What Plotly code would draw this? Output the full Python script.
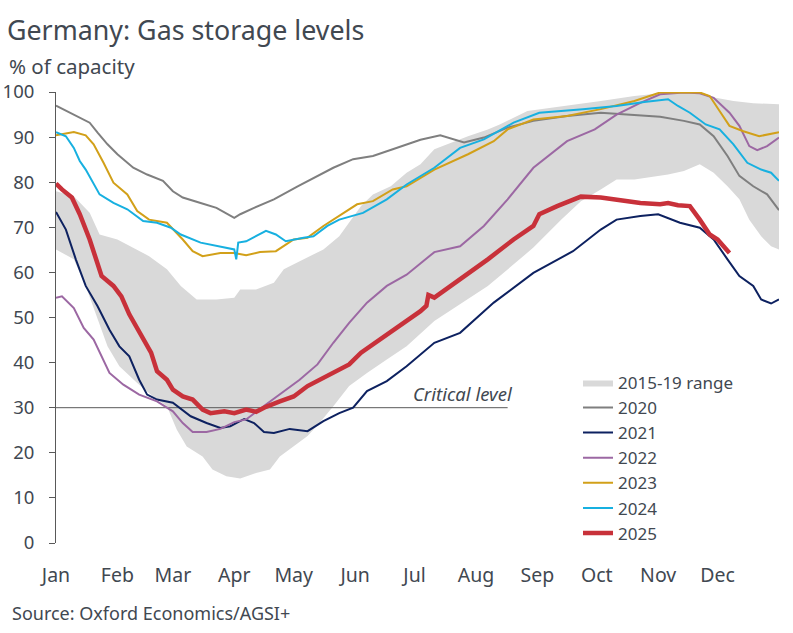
import pandas as pd
import plotly.graph_objects as go

# day offsets from 1 Jan, values in % of capacity
band_days = [0, 9, 17, 22, 31, 39, 47, 56, 63, 71, 81, 90, 93, 101, 110, 115, 123, 135, 143,
             154, 160, 169, 177, 184, 191, 208, 218, 224, 238, 258, 275, 292, 309, 325, 333,
             342, 352, 365]
band_hi = [78.0, 76.9, 73.2, 68.4, 67.3, 65.5, 63.6, 60.7, 57.0, 54.0, 54.0, 54.4, 56.2, 56.2,
           57.7, 60.7, 62.5, 65.1, 68.0, 74.7, 77.3, 79.1, 82.1, 84.0, 87.3, 90.2, 91.7, 92.8,
           95.8, 96.9, 98.0, 99.1, 99.9, 99.9, 98.7, 98.0, 97.5, 97.3]
band_lo_days = [0, 9, 15, 21, 26, 32, 41, 49, 56, 61, 66, 74, 79, 86, 93, 101, 108, 113, 120,
                127, 133, 140, 148, 157, 167, 177, 191, 208, 218, 230, 241, 255, 265, 275, 283,
                292, 309, 317, 325, 332, 339, 345, 350, 356, 361, 365]
band_lo = [65.1, 62.9, 57.0, 49.6, 43.6, 39.2, 35.5, 32.5, 30.3, 25.1, 21.4, 19.2, 16.3, 14.8,
           14.3, 15.5, 16.3, 19.2, 21.4, 23.7, 26.6, 30.3, 34.8, 37.7, 40.7, 43.6, 49.2, 54.0,
           57.0, 61.4, 65.5, 71.7, 75.8, 78.4, 80.6, 80.6, 81.7, 82.5, 84.0, 82.1, 79.1, 76.2,
           71.7, 68.0, 65.8, 65.1]

d2020 = [0, 9, 17, 21, 26, 31, 39, 46, 54, 59, 64, 73, 81, 90, 93, 100, 110, 122, 132, 140,
         150, 160, 170, 184, 194, 206, 216, 228, 241, 258, 275, 292, 305, 317, 325, 332, 339,
         345, 352, 359, 365]
v2020 = [97.0, 95.0, 93.2, 91.0, 88.4, 86.2, 83.2, 81.7, 80.3, 78.0, 76.6, 75.4, 74.3, 72.1,
         72.9, 74.3, 76.2, 79.1, 81.4, 83.2, 85.1, 85.8, 87.3, 89.4, 90.4, 88.8, 89.9, 92.1,
         93.6, 94.7, 95.4, 94.8, 94.5, 93.6, 92.8, 90.2, 85.8, 81.4, 79.1, 77.3, 73.8]

d2021 = [0, 5, 10, 15, 21, 27, 32, 37, 42, 46, 51, 59, 68, 76, 83, 88, 95, 100, 105, 110,
         118, 127, 135, 143, 150, 157, 167, 177, 191, 204, 221, 241, 261, 275, 283, 295, 304,
         315, 325, 332, 339, 345, 352, 356, 361, 365]
v2021 = [73.4, 69.5, 62.9, 57.0, 52.5, 47.3, 43.6, 41.4, 36.2, 32.9, 31.8, 31.1, 28.1, 26.6,
         25.5, 25.9, 27.5, 26.6, 24.6, 24.4, 25.3, 24.8, 27.0, 28.8, 30.0, 33.7, 35.9, 39.2,
         44.4, 46.6, 53.3, 59.9, 64.7, 69.5, 71.7, 72.5, 72.9, 71.0, 69.9, 67.3, 62.9, 59.2,
         57.0, 54.0, 53.1, 54.0]

d2022 = [0, 3, 9, 14, 19, 27, 34, 42, 51, 59, 64, 69, 76, 83, 90, 96, 106, 115, 123, 132,
         140, 148, 157, 167, 177, 191, 204, 216, 228, 241, 258, 272, 283, 295, 305, 317, 325,
         332, 340, 345, 350, 354, 359, 365]
v2022 = [54.4, 54.7, 52.1, 47.7, 45.1, 37.7, 35.1, 32.9, 31.4, 29.2, 26.6, 24.6, 24.6, 25.3,
         26.8, 27.4, 30.7, 33.7, 36.2, 39.6, 44.4, 48.8, 53.3, 57.0, 59.5, 64.5, 65.8, 70.3,
         76.2, 83.2, 89.1, 91.7, 95.0, 97.6, 99.5, 99.9, 99.7, 98.7, 95.4, 92.5, 88.0, 87.1,
         88.0, 89.9]

d2023 = [0, 9, 15, 19, 24, 29, 36, 41, 47, 56, 64, 69, 74, 83, 90, 96, 103, 111, 120, 127,
         135, 143, 152, 160, 170, 177, 191, 208, 221, 228, 241, 258, 275, 292, 305, 325, 330,
         335, 340, 347, 355, 365]
v2023 = [90.4, 91.1, 90.4, 88.4, 84.3, 79.9, 77.3, 73.6, 71.7, 71.0, 67.3, 64.7, 63.6, 64.3,
         64.3, 63.8, 64.5, 64.7, 67.3, 67.7, 70.3, 72.5, 75.1, 75.8, 78.4, 79.1, 82.8, 86.2,
         89.1, 91.7, 93.9, 94.7, 96.2, 98.0, 99.9, 99.9, 99.1, 95.8, 92.5, 91.3, 90.2, 91.1]

d2024 = [0, 5, 9, 12, 15, 19, 22, 29, 36, 44, 51, 58, 63, 73, 83, 90, 91, 92, 96, 106, 111,
         116, 125, 130, 137, 143, 155, 167, 177, 191, 204, 216, 231, 244, 266, 283, 297, 309,
         314, 320, 328, 335, 342, 349, 356, 361, 365]
v2024 = [91.1, 90.2, 87.6, 84.7, 82.8, 79.5, 77.3, 75.4, 74.0, 71.4, 71.0, 69.9, 68.4, 66.6,
         65.8, 65.1, 62.9, 66.6, 66.9, 69.2, 68.4, 66.9, 67.7, 68.0, 70.3, 71.7, 73.2, 76.2,
         79.5, 83.2, 87.6, 89.5, 93.2, 95.4, 96.2, 96.9, 97.8, 98.4, 96.9, 95.4, 92.8, 91.7,
         88.4, 84.3, 82.8, 82.1, 80.3]

d2025 = [0, 3, 8, 12, 17, 23, 29, 33, 37, 42, 48, 51, 56, 59, 64, 69, 74, 78, 85, 90, 96,
         101, 106, 113, 120, 127, 133, 140, 148, 154, 160, 169, 177, 184, 187, 188, 191, 204,
         218, 231, 241, 244, 253, 265, 275, 285, 295, 305, 309, 314, 320, 325, 330, 334, 337,
         340]
v2025 = [79.7, 78.4, 76.6, 72.9, 67.3, 59.2, 57.0, 54.7, 50.7, 46.6, 42.2, 38.1, 36.2, 34.0,
         32.5, 31.8, 29.6, 28.8, 29.2, 28.8, 29.6, 29.1, 30.2, 31.4, 32.5, 34.8, 36.2, 37.9,
         39.6, 42.2, 44.0, 46.6, 49.2, 51.4, 52.6, 55.0, 54.4, 58.4, 62.9, 67.3, 70.3, 72.9,
         74.7, 76.8, 76.6, 76.0, 75.4, 75.1, 75.4, 74.9, 74.7, 71.7, 68.4, 67.3, 65.8, 64.3]

critical_level = 30
critical_end_day = 228
month_names = ['Jan', 'Feb', 'Mar', 'Apr', 'May', 'Jun', 'Jul', 'Aug', 'Sep', 'Oct', 'Nov', 'Dec']

base = pd.Timestamp('2021-01-01')


def to_dates(days):
    return base + pd.to_timedelta(days, unit='D')


txt = '#414851'
font = 'Noto Sans'

fig = go.Figure()

# shaded 2015-19 range: invisible lower edge, then filled upper edge
fig.add_trace(go.Scatter(x=to_dates(band_lo_days), y=band_lo, mode='lines',
                         line=dict(width=0, color='#d9d9d9'), showlegend=False,
                         legendgroup='band', hoverinfo='skip'))
fig.add_trace(go.Scatter(x=to_dates(band_days), y=band_hi, mode='lines',
                         line=dict(width=0, color='#d9d9d9'), fill='tonexty',
                         fillcolor='#d9d9d9', name='2015-19 range', legendgroup='band'))

fig.add_trace(go.Scatter(x=to_dates([0, critical_end_day]), y=[critical_level] * 2,
                         mode='lines', line=dict(width=1, color='#595959'), showlegend=False))

series = [
    ('2020', d2020, v2020, '#7f7f7f', 2),
    ('2021', d2021, v2021, '#0d2160', 2),
    ('2022', d2022, v2022, '#9c68a3', 2),
    ('2023', d2023, v2023, '#d2a019', 2),
    ('2024', d2024, v2024, '#17b0e0', 2),
    ('2025', d2025, v2025, '#c8313a', 4.5),
]
for name, days, vals, col, w in series:
    fig.add_trace(go.Scatter(x=to_dates(days), y=vals, mode='lines', name=name,
                             legendgroup=name, line=dict(color=col, width=w)))

fig.add_annotation(x=to_dates([critical_end_day])[0], y=critical_level, xshift=7,
                   text='<i>Critical level</i>', showarrow=False, xanchor='right',
                   yanchor='bottom', font=dict(family=font, size=18.5, color=txt))

fig.update_layout(
    width=793, height=633,
    margin=dict(l=56, r=14, t=92, b=90),
    paper_bgcolor='white', plot_bgcolor='white',
    font=dict(family=font, color=txt),
    title=dict(text='Germany: Gas storage levels', xref='container', x=0.0088,
               xanchor='left', yref='container', y=0.951, yanchor='middle',
               font=dict(size=26.8, color=txt)),
    legend=dict(x=0.722, y=0.395, xanchor='left', yanchor='top', bgcolor='rgba(0,0,0,0)',
                font=dict(size=17, color=txt), traceorder='grouped', tracegroupgap=0),
    showlegend=True,
)
fig.add_annotation(text='% of capacity', xref='paper', yref='paper', x=-0.0678, y=1.057,
                   xanchor='left', yanchor='middle', showarrow=False,
                   font=dict(size=20.5, color=txt))
fig.add_annotation(text='Source: Oxford Economics/AGSI+', xref='paper', yref='paper',
                   x=-0.063, y=-0.155, xanchor='left', yanchor='middle', showarrow=False,
                   font=dict(size=18, color=txt))

fig.update_xaxes(type='date', range=[base, base + pd.Timedelta(days=365)],
                 tickvals=[base + pd.DateOffset(months=i) for i in range(12)],
                 ticktext=month_names, showgrid=False, showline=False, ticks='',
                 zeroline=False, automargin=False, ticklabelstandoff=18,
                 tickfont=dict(size=19.5, color=txt))
fig.update_yaxes(range=[0, 100], dtick=10, showgrid=False, zeroline=False, showline=True,
                 linecolor='#595959', linewidth=1, ticks='outside', ticklen=6,
                 tickcolor='#595959', automargin=False, ticklabelstandoff=11,
                 tickfont=dict(size=18.5, color=txt))

# drop the page's default body margin so the figure sits at the window's corner
fig.write_html('out.html', config={'displayModeBar': False},
               post_script="document.body.style.margin = '0';")
